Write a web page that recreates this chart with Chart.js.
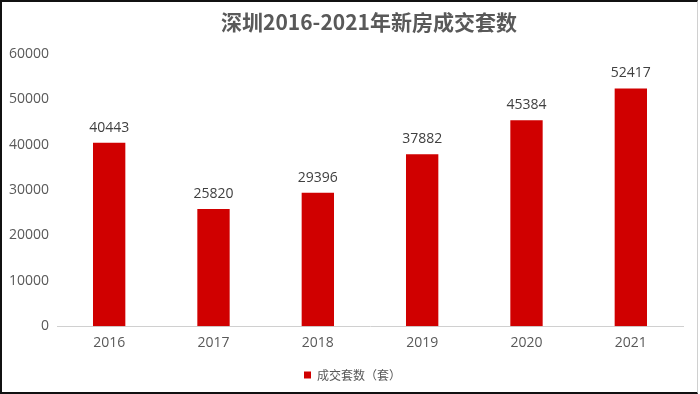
<!DOCTYPE html>
<html>
<head>
<meta charset="utf-8">
<script src="https://cdn.jsdelivr.net/npm/chart.js@4"></script>
<style>
  html, body { margin: 0; padding: 0; background: #fff; }
  #wrap {
    position: absolute; left: 0; top: 0;
    width: 695px; height: 390px;
    border-top: 2px solid #111; border-left: 2px solid #111; border-bottom: 2px solid #111;
    border-right: 1px solid #d0d0d0;
    box-sizing: content-box;
  }
  #c { display: block; }
</style>
</head>
<body>
<div id="wrap"><canvas id="c" width="695" height="390"></canvas></div>
<script>
const titleText = '深圳2016-2021年新房成交套数';
const categories = ['2016', '2017', '2018', '2019', '2020', '2021'];
const seriesName = '成交套数（套）';
const values = [40443, 25820, 29396, 37882, 45384, 52417];
const yTicks = [0, 10000, 20000, 30000, 40000, 50000, 60000];

const textColor = '#595959';
const barColor = '#D00000';
const tickFont = { family: "'Open Sans', 'Noto Sans', sans-serif", size: 14 };

const centerTitle = {
  id: 'centerTitle',
  afterDraw(chart) {
    const ctx = chart.ctx, a = chart.chartArea;
    ctx.save();
    ctx.fillStyle = textColor;
    ctx.font = "bold 21px 'Noto Sans CJK SC', 'Noto Sans', sans-serif";
    ctx.textAlign = 'center';
    ctx.textBaseline = 'middle';
    ctx.fillText(titleText, (a.left + a.right) / 2 - 1, 20);
    ctx.restore();
  }
};

const shiftLegend = {
  id: 'shiftLegend',
  afterLayout(chart) {
    const lg = chart.legend;
    if (lg) { lg.left += 10; lg.right += 10; }
  }
};

const valueLabels = {
  id: 'valueLabels',
  afterDatasetsDraw(chart) {
    const ctx = chart.ctx;
    const meta = chart.getDatasetMeta(0);
    ctx.save();
    ctx.fillStyle = '#404040';
    ctx.font = "14px 'Open Sans', 'Noto Sans', sans-serif";
    ctx.textAlign = 'center';
    ctx.textBaseline = 'middle';
    meta.data.forEach((bar, i) => {
      ctx.fillText(String(chart.data.datasets[0].data[i]), bar.x, bar.y - 15);
    });
    ctx.restore();
  }
};

new Chart(document.getElementById('c'), {
  type: 'bar',
  data: {
    labels: categories,
    datasets: [{
      label: seriesName,
      data: values,
      backgroundColor: barColor,
      borderWidth: 0,
      categoryPercentage: 1,
      barPercentage: 0.31
    }]
  },
  options: {
    responsive: false,
    animation: false,
    devicePixelRatio: 1,
    layout: { padding: { top: 52, right: 14, left: 0, bottom: 1 } },
    plugins: {
      title: { display: false },
      tooltip: { enabled: false },
      legend: {
        display: true,
        position: 'bottom',
        labels: {
          color: textColor,
          boxWidth: 7,
          boxHeight: 7,
          padding: 10,
          font: { family: "'Noto Sans CJK SC', 'Noto Sans', sans-serif", size: 12 }
        }
      }
    },
    scales: {
      x: {
        grid: { display: false, drawTicks: false },
        border: { display: true, color: '#d0d0d0', width: 1 },
        ticks: { color: textColor, font: tickFont, padding: 8 }
      },
      y: {
        min: 0, max: 60000,
        afterFit(scale) { scale.width = 55; },
        afterBuildTicks(scale) { scale.ticks = yTicks.map(v => ({ value: v })); },
        grid: { display: false, drawTicks: false },
        border: { display: false },
        ticks: { color: textColor, font: tickFont, padding: 8, callback: v => String(v) }
      }
    }
  },
  plugins: [centerTitle, shiftLegend, valueLabels]
});
</script>
</body>
</html>
